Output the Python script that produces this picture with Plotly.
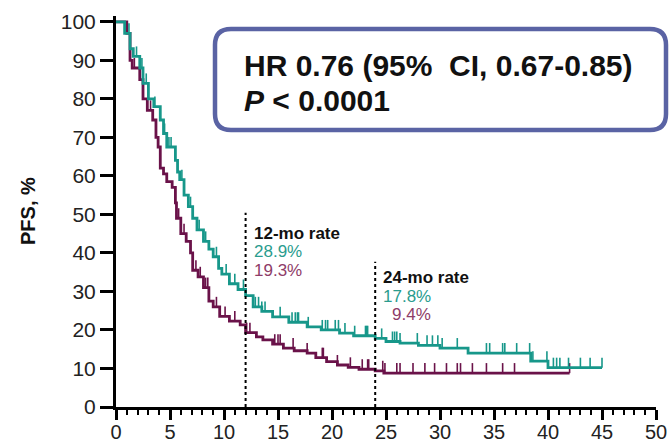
import numpy as np
import plotly.graph_objects as go

# Kaplan-Meier step knots (months, % progression-free)
teal_t = [0, 0.8, 1.3, 1.6, 2.2, 2.5, 3.0, 3.5, 4.1, 4.4, 4.7, 5.5, 5.7, 5.9, 6.3, 6.7,
          7.1, 7.5, 8.1, 8.6, 9.0, 9.5, 9.8, 10.5, 11.3, 12.0, 12.7, 13.5, 14.5, 16.0,
          17.7, 19.0, 20.7, 22.0, 24.0, 25.0, 26.3, 28.0, 30.0, 32.6, 38.4, 40.0]
teal_s = [100, 97, 93, 91, 88, 84, 80, 78, 74.5, 71, 67.5, 64, 61, 59, 55, 52,
          49, 46, 43, 41, 39, 36, 34.5, 32, 30.5, 28.9, 26, 24.8, 23.4, 22,
          20.8, 20, 19.2, 18.5, 17.8, 17, 16.6, 16, 15.3, 14, 11.9, 10.2]
teal_end = 45.0
teal_cens = [1.2, 1.9, 2.4, 2.8, 3.6, 4.5, 4.9, 5.1, 6.1, 6.9, 7.7, 8.3, 9.3, 10.2, 11.0,
             11.8, 12.9, 13.2, 13.5, 13.8, 15.2, 16.3, 16.6, 16.8, 16.9, 17.8, 19.1,
             19.4, 19.6, 20.3, 20.6, 21.2, 22.1, 23.1, 23.2, 23.3, 24.6, 25.6, 25.8,
             26.0, 26.3, 27.9, 28.8, 29.3, 29.8, 30.2, 31.6, 34.3, 34.6, 35.8, 36.0,
             37.1, 38.3, 38.6, 39.9, 40.5, 40.8, 41.1, 41.9, 43.0, 43.9, 45.0]

maroon_t = [0, 1.0, 1.3, 1.5, 2.2, 2.5, 2.9, 3.4, 3.7, 3.9, 4.1, 4.4, 4.7, 5.2, 5.5,
            5.6, 6.0, 6.5, 6.9, 7.1, 7.6, 8.1, 8.6, 9.0, 9.6, 10.5, 11.5, 12.0, 13.0,
            13.6, 14.5, 15.5, 16.5, 17.7, 18.5, 19.5, 20.5, 21.5, 22.5, 24.0, 24.8]
maroon_s = [100, 97, 90, 88, 85, 80, 77, 74.5, 70, 67.5, 62, 60.5, 58.5, 57, 53,
            49, 45, 43, 40, 35.5, 33.8, 31, 27.5, 26, 23.5, 22.3, 21.3, 19.3, 18.2,
            17.4, 16.3, 15.3, 14.6, 14, 12.8, 11.8, 10.9, 10.3, 9.8, 9.4, 8.8]
maroon_end = 42.0
maroon_cens = [1.7, 3.2, 5.8, 6.3, 7.4, 7.8, 8.3, 8.5, 9.3, 10.1, 11.0, 12.1, 12.4,
               14.7, 15.0, 15.2, 16.4, 17.7, 19.1, 19.2, 20.5, 21.7, 22.8, 23.3, 23.4,
               24.7, 24.9, 26.0, 26.3, 27.5, 28.6, 29.5, 30.6, 31.6, 31.9, 33.0, 34.3,
               35.8, 36.9, 42.0]

# Landmark rates
landmarks = [12, 24]
teal_rates = [28.9, 17.8]
maroon_rates = [19.3, 9.4]

x_ticks = list(range(0, 51, 5))
y_ticks = list(range(0, 101, 10))

TEAL = "#17978a"
MAROON = "#6a1249"
TEAL_TXT = "#2a9c8e"
MAROON_TXT = "#8e3c68"
FONT = "Liberation Sans, Arial, sans-serif"

W, H = 669, 447
L, R, T, B = 116, 13, 16, 40
PW, PH = W - L - R, H - T - B


def px(xp):
    return (xp - L) / PW


def py(yp):
    return (H - B - yp) / PH


def step_value(times, surv, t):
    idx = np.searchsorted(np.asarray(times), t, side="right") - 1
    return np.asarray(surv)[idx]


def curve_xy(times, surv, end):
    return list(times) + [end], list(surv) + [surv[-1]]


def censor_xy(times, surv, cens, h=2.6):
    xs, ys = [], []
    for c in cens:
        v = float(step_value(times, surv, c))
        xs += [c, c, None]
        ys += [v, v + h, None]
    return xs, ys


fig = go.Figure()
for t, s, end, cens, col in [
    (maroon_t, maroon_s, maroon_end, maroon_cens, MAROON),
    (teal_t, teal_s, teal_end, teal_cens, TEAL),
]:
    cx, cy = curve_xy(t, s, end)
    fig.add_trace(go.Scatter(x=cx, y=cy, mode="lines", line=dict(color=col, width=2.8, shape="hv"),
                             showlegend=False, hoverinfo="skip"))
    mx, my = censor_xy(t, s, cens)
    fig.add_trace(go.Scatter(x=mx, y=my, mode="lines", line=dict(color=col, width=1.6),
                             showlegend=False, hoverinfo="skip"))

# Dotted landmark lines
for lm, top in zip(landmarks, [50.4, 37.7]):
    fig.add_shape(type="line", xref="x", yref="y", x0=lm, x1=lm, y0=0, y1=top,
                  line=dict(color="black", width=2, dash="dot"))

annotations = []
# Landmark labels
label_pos = [(252, 233, 304), (381, 277, 433)]
for lm, tr, mr, (xl, yl, xr) in zip(landmarks, teal_rates, maroon_rates, label_pos):
    annotations.append(dict(x=px(xl), y=py(yl), xref="paper", yref="paper", xanchor="left",
                            yanchor="middle", showarrow=False, text=f"<b>{lm}-mo rate</b>",
                            font=dict(family=FONT, size=17, color="#111")))
    annotations.append(dict(x=px(xr), y=py(yl + 19), xref="paper", yref="paper", xanchor="right",
                            yanchor="middle", showarrow=False, text=f"{tr:.1f}%",
                            font=dict(family=FONT, size=17, color=TEAL_TXT)))
    annotations.append(dict(x=px(xr), y=py(yl + 37.5), xref="paper", yref="paper", xanchor="right",
                            yanchor="middle", showarrow=False, text=f"{mr:.1f}%",
                            font=dict(family=FONT, size=17, color=MAROON_TXT)))

# Hazard ratio box
bx0, by0, bx1, by1, rad = 215, 29, 666, 130, 16
x0, x1, y0, y1 = px(bx0), px(bx1), py(by1), py(by0)
rx, ry = rad / PW, rad / PH
path = (f"M {x0+rx},{y1} L {x1-rx},{y1} Q {x1},{y1} {x1},{y1-ry} "
        f"L {x1},{y0+ry} Q {x1},{y0} {x1-rx},{y0} L {x0+rx},{y0} "
        f"Q {x0},{y0} {x0},{y0+ry} L {x0},{y1-ry} Q {x0},{y1} {x0+rx},{y1} Z")
fig.add_shape(type="path", xref="paper", yref="paper", path=path,
              line=dict(color="#5a63a4", width=4.5), fillcolor="white", layer="above")

annotations.append(dict(x=px(242), y=py(65), xref="paper", yref="paper", xanchor="left",
                        yanchor="middle", showarrow=False,
                        text="<b>HR 0.76 (95%  CI, 0.67-0.85)</b>",
                        font=dict(family=FONT, size=30, color="#111")))
annotations.append(dict(x=px(242), y=py(101), xref="paper", yref="paper", xanchor="left",
                        yanchor="middle", showarrow=False,
                        text="<b><i>P</i> < 0.0001</b>",
                        font=dict(family=FONT, size=30, color="#111")))

# Y-axis title
annotations.append(dict(x=px(28), y=py(211), xref="paper", yref="paper", xanchor="center",
                        yanchor="middle", showarrow=False, textangle=-90,
                        text="<b>PFS, %</b>", font=dict(family=FONT, size=20, color="#111")))

fig.update_layout(
    width=W, height=H,
    margin=dict(l=L, r=R, t=T, b=B, pad=0, autoexpand=False),
    paper_bgcolor="white", plot_bgcolor="white",
    annotations=annotations,
    xaxis=dict(range=[0, 50], tickvals=x_ticks, ticktext=[str(v) for v in x_ticks],
               ticks="outside", ticklen=10, tickwidth=2.5, tickcolor="black", automargin=False,
               ticklabelstandoff=-5,
               showline=True, linewidth=3, linecolor="black", showgrid=False, zeroline=False,
               minor=dict(dtick=1, ticks="outside", ticklen=5, tickwidth=2, tickcolor="black"),
               tickfont=dict(family=FONT, size=20, color="#222")),
    yaxis=dict(range=[0, 101.5], tickvals=y_ticks, ticktext=[str(v) for v in y_ticks],
               ticks="outside", ticklen=13, tickwidth=2.5, tickcolor="black", automargin=False,
               showline=True, linewidth=3, linecolor="black", showgrid=False, zeroline=False,
               tickfont=dict(family=FONT, size=21, color="#222")),
)

fig.write_html("out.html")
